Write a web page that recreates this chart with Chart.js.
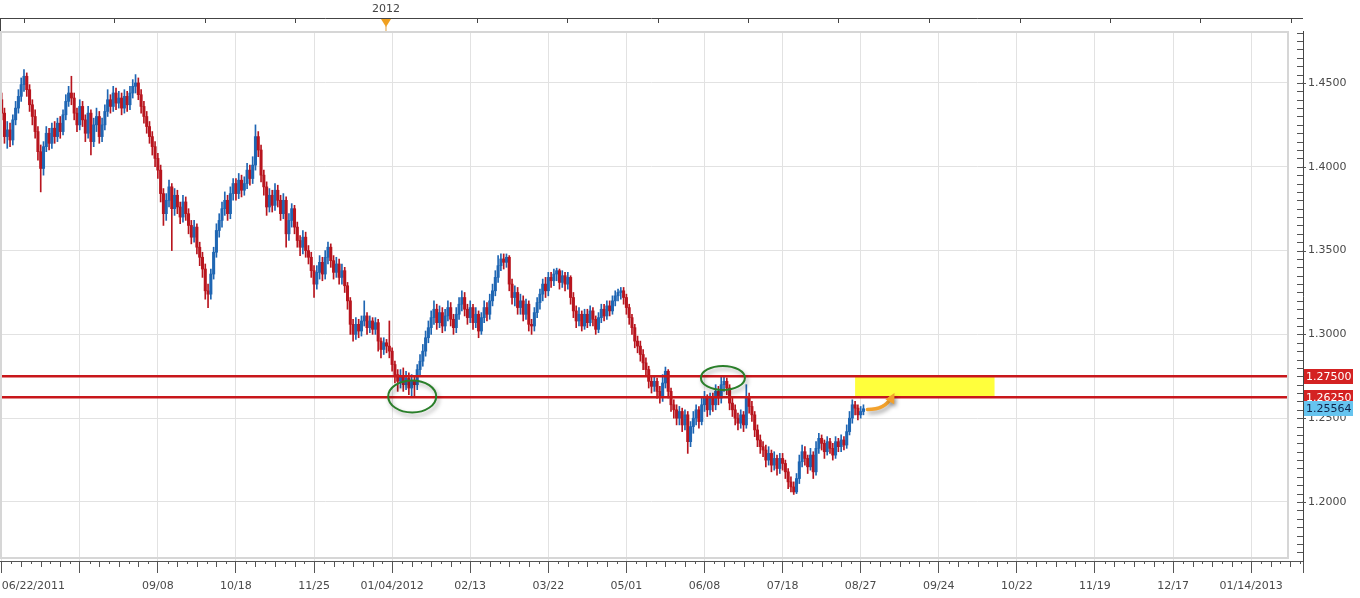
<!DOCTYPE html>
<html>
<head>
<meta charset="utf-8">
<script src="https://cdn.jsdelivr.net/npm/chart.js@4.4.0/dist/chart.umd.min.js"></script>
<style>
  html, body { margin: 0; background: #fff; }
  #wrap { width: 1360px; height: 598px; position: relative; }
</style>
</head>
<body>
<div id="wrap"><canvas id="chart"></canvas></div>
<script>
// daily bars, index 0 = 06/22/2011
const opens = [
  1.440,1.432,1.418,1.422,1.416,1.428,1.435,1.442,1.449,1.454,
  1.446,1.437,1.430,1.421,1.409,1.399,1.412,1.420,1.414,1.423,
  1.418,1.426,1.421,1.431,1.439,1.444,1.441,1.432,1.425,1.436,
  1.428,1.420,1.432,1.415,1.425,1.430,1.418,1.425,1.433,1.440,
  1.436,1.444,1.438,1.441,1.435,1.442,1.437,1.444,1.448,1.450,
  1.443,1.436,1.430,1.424,1.418,1.412,1.405,1.398,1.384,1.372,
  1.380,1.388,1.375,1.383,1.376,1.370,1.379,1.372,1.365,1.358,
  1.364,1.352,1.346,1.339,1.326,1.324,1.336,1.349,1.362,1.368,
  1.375,1.380,1.372,1.384,1.390,1.384,1.392,1.386,1.390,1.398,
  1.393,1.401,1.418,1.410,1.395,1.388,1.376,1.383,1.377,1.386,
  1.380,1.372,1.380,1.360,1.368,1.375,1.364,1.356,1.352,1.358,
  1.350,1.346,1.338,1.330,1.337,1.343,1.336,1.346,1.352,1.344,
  1.337,1.342,1.334,1.338,1.329,1.320,1.306,1.300,1.306,1.302,
  1.308,1.311,1.304,1.308,1.303,1.307,1.296,1.291,1.295,1.293,
  1.290,1.282,1.276,1.272,1.275,1.270,1.274,1.268,1.272,1.270,
  1.279,1.284,1.290,1.298,1.304,1.310,1.315,1.307,1.313,1.305,
  1.311,1.316,1.309,1.304,1.312,1.318,1.322,1.315,1.310,1.316,
  1.307,1.312,1.302,1.310,1.316,1.312,1.320,1.326,1.334,1.341,
  1.345,1.343,1.346,1.330,1.322,1.325,1.316,1.320,1.312,1.318,
  1.306,1.305,1.313,1.319,1.324,1.330,1.326,1.334,1.332,1.336,
  1.338,1.331,1.335,1.330,1.334,1.322,1.314,1.308,1.312,1.305,
  1.312,1.307,1.314,1.309,1.303,1.310,1.315,1.311,1.317,1.314,
  1.320,1.323,1.325,1.326,1.322,1.316,1.310,1.304,1.296,1.293,
  1.288,1.283,1.279,1.272,1.269,1.272,1.266,1.263,1.271,1.278,
  1.266,1.258,1.255,1.250,1.254,1.246,1.252,1.236,1.245,1.250,
  1.255,1.248,1.258,1.262,1.255,1.262,1.258,1.266,1.262,1.270,
  1.272,1.268,1.259,1.255,1.250,1.247,1.252,1.246,1.262,1.257,
  1.252,1.243,1.237,1.233,1.231,1.225,1.229,1.222,1.226,1.220,
  1.226,1.223,1.218,1.212,1.209,1.206,1.214,1.224,1.230,1.226,
  1.221,1.228,1.218,1.232,1.238,1.235,1.230,1.236,1.232,1.228,
  1.236,1.233,1.237,1.234,1.242,1.250,1.258,1.256,1.252,1.254
];
const highs = [
  1.444,1.435,1.427,1.426,1.431,1.439,1.446,1.453,1.458,1.456,
  1.449,1.440,1.434,1.424,1.413,1.415,1.424,1.423,1.426,1.427,
  1.429,1.430,1.434,1.443,1.448,1.454,1.444,1.435,1.440,1.439,
  1.431,1.436,1.434,1.429,1.435,1.433,1.429,1.437,1.446,1.443,
  1.448,1.447,1.445,1.444,1.446,1.445,1.448,1.452,1.455,1.453,
  1.446,1.439,1.433,1.427,1.421,1.415,1.408,1.401,1.387,1.384,
  1.392,1.390,1.387,1.386,1.379,1.383,1.382,1.375,1.368,1.368,
  1.366,1.355,1.349,1.342,1.330,1.339,1.352,1.366,1.372,1.379,
  1.385,1.383,1.388,1.393,1.393,1.396,1.395,1.394,1.402,1.401,
  1.406,1.425,1.421,1.413,1.398,1.391,1.387,1.386,1.390,1.389,
  1.383,1.384,1.382,1.372,1.378,1.377,1.367,1.359,1.362,1.361,
  1.353,1.349,1.341,1.341,1.347,1.346,1.350,1.355,1.354,1.347,
  1.346,1.345,1.342,1.340,1.331,1.322,1.309,1.310,1.309,1.311,
  1.320,1.313,1.311,1.310,1.310,1.309,1.298,1.298,1.297,1.308,
  1.292,1.284,1.279,1.279,1.280,1.278,1.277,1.276,1.275,1.282,
  1.288,1.294,1.302,1.308,1.314,1.320,1.318,1.317,1.316,1.315,
  1.320,1.319,1.312,1.316,1.322,1.326,1.325,1.318,1.320,1.318,
  1.316,1.314,1.313,1.320,1.319,1.324,1.330,1.338,1.347,1.348,
  1.348,1.348,1.347,1.333,1.329,1.328,1.324,1.323,1.321,1.320,
  1.309,1.316,1.322,1.327,1.333,1.334,1.337,1.337,1.339,1.3395,
  1.339,1.338,1.337,1.337,1.335,1.325,1.317,1.316,1.314,1.315,
  1.315,1.317,1.316,1.311,1.313,1.318,1.318,1.320,1.320,1.323,
  1.326,1.327,1.328,1.328,1.324,1.318,1.312,1.306,1.299,1.296,
  1.291,1.286,1.281,1.275,1.275,1.274,1.269,1.276,1.2805,1.279,
  1.268,1.261,1.258,1.257,1.256,1.255,1.254,1.248,1.254,1.258,
  1.257,1.262,1.266,1.264,1.265,1.265,1.270,1.269,1.2745,1.2745,
  1.274,1.270,1.262,1.258,1.253,1.255,1.254,1.270,1.265,1.260,
  1.254,1.246,1.240,1.236,1.234,1.233,1.231,1.230,1.228,1.229,
  1.229,1.225,1.220,1.215,1.212,1.217,1.228,1.234,1.233,1.228,
  1.232,1.230,1.236,1.241,1.240,1.237,1.239,1.238,1.235,1.239,
  1.238,1.240,1.239,1.246,1.254,1.261,1.260,1.258,1.257,1.258
];
const lows = [
  1.428,1.414,1.411,1.412,1.413,1.425,1.432,1.439,1.445,1.442,
  1.433,1.425,1.417,1.404,1.385,1.395,1.409,1.410,1.411,1.414,
  1.415,1.417,1.419,1.428,1.436,1.437,1.428,1.421,1.422,1.424,
  1.415,1.417,1.407,1.412,1.421,1.414,1.415,1.422,1.430,1.432,
  1.433,1.434,1.435,1.431,1.432,1.433,1.434,1.441,1.444,1.440,
  1.432,1.426,1.420,1.414,1.407,1.400,1.393,1.379,1.365,1.368,
  1.376,1.350,1.371,1.372,1.366,1.367,1.368,1.360,1.354,1.355,
  1.348,1.341,1.334,1.321,1.316,1.321,1.333,1.346,1.358,1.364,
  1.371,1.368,1.369,1.380,1.380,1.381,1.382,1.383,1.387,1.389,
  1.390,1.398,1.406,1.391,1.383,1.371,1.373,1.373,1.374,1.376,
  1.368,1.369,1.352,1.356,1.364,1.360,1.352,1.347,1.348,1.346,
  1.342,1.334,1.322,1.327,1.333,1.332,1.333,1.342,1.340,1.333,
  1.334,1.330,1.330,1.325,1.315,1.300,1.296,1.297,1.298,1.299,
  1.305,1.300,1.301,1.300,1.300,1.290,1.286,1.288,1.289,1.286,
  1.278,1.271,1.266,1.268,1.266,1.267,1.264,1.2625,1.263,1.267,
  1.276,1.281,1.287,1.295,1.300,1.306,1.303,1.304,1.301,1.302,
  1.308,1.305,1.300,1.301,1.309,1.314,1.311,1.306,1.307,1.303,
  1.304,1.298,1.300,1.307,1.308,1.309,1.317,1.323,1.331,1.338,
  1.339,1.340,1.326,1.318,1.317,1.312,1.312,1.308,1.309,1.302,
  1.300,1.302,1.310,1.315,1.320,1.322,1.323,1.328,1.329,1.332,
  1.327,1.328,1.326,1.327,1.318,1.310,1.304,1.305,1.302,1.303,
  1.304,1.305,1.305,1.300,1.301,1.307,1.308,1.309,1.311,1.312,
  1.317,1.320,1.321,1.318,1.312,1.306,1.300,1.292,1.289,1.284,
  1.279,1.275,1.268,1.265,1.266,1.262,1.259,1.260,1.268,1.262,
  1.254,1.250,1.246,1.246,1.242,1.243,1.229,1.233,1.241,1.246,
  1.244,1.246,1.254,1.251,1.252,1.254,1.255,1.258,1.259,1.266,
  1.264,1.255,1.251,1.246,1.243,1.244,1.242,1.244,1.253,1.248,
  1.239,1.233,1.229,1.227,1.221,1.222,1.218,1.219,1.216,1.217,
  1.219,1.214,1.208,1.206,1.2045,1.205,1.211,1.221,1.222,1.217,
  1.219,1.214,1.216,1.229,1.231,1.226,1.228,1.229,1.225,1.226,
  1.230,1.230,1.231,1.232,1.240,1.247,1.252,1.249,1.250,1.252
];
const closes = [
  1.432,1.418,1.422,1.416,1.428,1.435,1.442,1.449,1.454,1.446,
  1.437,1.430,1.421,1.409,1.399,1.412,1.420,1.414,1.423,1.418,
  1.426,1.421,1.431,1.439,1.444,1.441,1.432,1.425,1.436,1.428,
  1.420,1.432,1.415,1.425,1.430,1.418,1.425,1.433,1.440,1.436,
  1.444,1.438,1.441,1.435,1.442,1.437,1.444,1.448,1.450,1.443,
  1.436,1.430,1.424,1.418,1.412,1.405,1.398,1.384,1.372,1.380,
  1.388,1.375,1.383,1.376,1.370,1.379,1.372,1.365,1.358,1.364,
  1.352,1.346,1.339,1.326,1.324,1.336,1.349,1.362,1.368,1.375,
  1.380,1.372,1.384,1.390,1.384,1.392,1.386,1.390,1.398,1.393,
  1.401,1.418,1.410,1.395,1.388,1.376,1.383,1.377,1.386,1.380,
  1.372,1.380,1.360,1.368,1.375,1.364,1.356,1.352,1.358,1.350,
  1.346,1.338,1.330,1.337,1.343,1.336,1.346,1.352,1.344,1.337,
  1.342,1.334,1.338,1.329,1.320,1.306,1.300,1.306,1.302,1.308,
  1.311,1.304,1.308,1.303,1.307,1.296,1.291,1.295,1.293,1.290,
  1.282,1.276,1.272,1.275,1.270,1.274,1.268,1.272,1.270,1.279,
  1.284,1.290,1.298,1.304,1.310,1.315,1.307,1.313,1.305,1.311,
  1.316,1.309,1.304,1.312,1.318,1.322,1.315,1.310,1.316,1.307,
  1.312,1.302,1.310,1.316,1.312,1.320,1.326,1.334,1.341,1.345,
  1.343,1.346,1.330,1.322,1.325,1.316,1.320,1.312,1.318,1.306,
  1.305,1.313,1.319,1.324,1.330,1.326,1.334,1.332,1.336,1.338,
  1.331,1.335,1.330,1.334,1.322,1.314,1.308,1.312,1.305,1.312,
  1.307,1.314,1.309,1.303,1.310,1.315,1.311,1.317,1.314,1.320,
  1.323,1.325,1.326,1.322,1.316,1.310,1.304,1.296,1.293,1.288,
  1.283,1.279,1.272,1.269,1.272,1.266,1.263,1.271,1.278,1.266,
  1.258,1.255,1.250,1.254,1.246,1.252,1.236,1.245,1.250,1.255,
  1.248,1.258,1.262,1.255,1.262,1.258,1.266,1.262,1.270,1.272,
  1.268,1.259,1.255,1.250,1.247,1.252,1.246,1.262,1.257,1.252,
  1.243,1.237,1.233,1.231,1.225,1.229,1.222,1.226,1.220,1.226,
  1.223,1.218,1.212,1.209,1.206,1.214,1.224,1.230,1.226,1.221,
  1.228,1.218,1.232,1.238,1.235,1.230,1.236,1.232,1.228,1.236,
  1.233,1.237,1.234,1.242,1.250,1.258,1.256,1.252,1.254,1.25564
];

const xTickIdx = [0, 28, 56, 84, 112, 140, 168, 196, 224, 252, 280, 308, 336, 364, 392, 420, 448];
const xTickLabels = ['06/22/2011', '', '09/08', '10/18', '11/25', '01/04/2012', '02/13', '03/22',
  '05/01', '06/08', '07/18', '08/27', '09/24', '10/22', '11/19', '12/17', '01/14/2013'];
const yTicks = [1.20, 1.25, 1.30, 1.35, 1.40, 1.45];
const topTickIdx = [8, 40.3, 72.9, 105.2, 137.8, 170.3, 202.7, 235.2, 267.6, 300, 332.5, 365, 397.4, 429.8, 462.3];
const yearMark = { idx: 137.8, label: '2012' };

const levels = [1.2750, 1.2625];
const levelLabels = ['1.27500', '1.26250'];
const lastPrice = 1.25564;
const zoneIdx = [306, 356];
const zonePrice = [1.2625, 1.2750];
const circleIdx = [147.2, 258.6];
const circlePrice = [1.2630, 1.2740];
const arrowIdx = [310.4, 319.8];
const arrowPrice = [1.2552, 1.2640];

const X_MIN = -0.6;
const X_MAX = 466.6;
const RED = '#b8151e';
const BLUE = '#1f66b3';
const FONT = 'DejaVu Sans';

const colors = closes.map((c, i) => (c >= opens[i] ? BLUE : RED));
const wicks = closes.map((c, i) => ({ x: i, y: [lows[i], highs[i]] }));
const bodies = closes.map((c, i) => ({ x: i, y: [opens[i], c] }));

const overlay = {
  id: 'overlay',
  afterDatasetsDraw(chart) {
    const { ctx, chartArea: a, scales: { x, y } } = chart;
    const frameRight = a.right - 15;

    // target zone
    ctx.save();
    ctx.fillStyle = '#ffff3c';
    const zx0 = x.getPixelForValue(zoneIdx[0]);
    const zx1 = x.getPixelForValue(zoneIdx[1]);
    const zy0 = y.getPixelForValue(zonePrice[1]);
    const zy1 = y.getPixelForValue(zonePrice[0]);
    ctx.fillRect(zx0, zy0, zx1 - zx0, zy1 - zy0);

    // level lines
    ctx.strokeStyle = '#c8171b';
    ctx.lineWidth = 2.5;
    levels.forEach(v => {
      const py = y.getPixelForValue(v);
      ctx.beginPath();
      ctx.moveTo(a.left, py);
      ctx.lineTo(frameRight, py);
      ctx.stroke();
    });

    // green circles
    const radii = [[24, 16], [22, 12]];
    ctx.shadowColor = 'rgba(0,0,0,0.35)';
    ctx.shadowBlur = 4;
    ctx.shadowOffsetX = 2;
    ctx.shadowOffsetY = 3;
    ctx.strokeStyle = '#2a7f2a';
    ctx.lineWidth = 2;
    circleIdx.forEach((v, i) => {
      ctx.beginPath();
      ctx.ellipse(x.getPixelForValue(v), y.getPixelForValue(circlePrice[i]), radii[i][0], radii[i][1], 0, 0, Math.PI * 2);
      ctx.stroke();
    });

    // orange arrow
    const ax0 = x.getPixelForValue(arrowIdx[0]);
    const ay0 = y.getPixelForValue(arrowPrice[0]);
    const ax1 = x.getPixelForValue(arrowIdx[1]);
    const ay1 = y.getPixelForValue(arrowPrice[1]);
    const cx = ax1 - 8;
    const cy = ay0;
    ctx.strokeStyle = '#f2a12c';
    ctx.fillStyle = '#f2a12c';
    ctx.lineWidth = 3.5;
    ctx.lineCap = 'round';
    ctx.beginPath();
    ctx.moveTo(ax0, ay0);
    ctx.quadraticCurveTo(cx, cy, ax1 - 3, ay1 + 3);
    ctx.stroke();
    const ang = Math.atan2(ay1 - cy, ax1 - cx);
    ctx.beginPath();
    ctx.moveTo(ax1 + 2 * Math.cos(ang), ay1 + 2 * Math.sin(ang));
    ctx.lineTo(ax1 - 8 * Math.cos(ang) + 5 * Math.sin(ang), ay1 - 8 * Math.sin(ang) - 5 * Math.cos(ang));
    ctx.lineTo(ax1 - 8 * Math.cos(ang) - 5 * Math.sin(ang), ay1 - 8 * Math.sin(ang) + 5 * Math.cos(ang));
    ctx.closePath();
    ctx.fill();
    ctx.restore();
  },
  afterDraw(chart) {
    const { ctx, chartArea: a, scales: { x, y } } = chart;
    const frameRight = a.right - 15;
    ctx.save();

    // gap between plot frame and price axis
    ctx.fillStyle = '#fff';
    ctx.fillRect(frameRight + 1, a.top, a.right - frameRight - 2, a.bottom - a.top);

    // plot frame
    ctx.strokeStyle = '#d6d6d6';
    ctx.lineWidth = 2;
    ctx.strokeRect(1, a.top + 1, frameRight - 1, a.bottom - a.top - 4);

    // price axis minor ticks
    ctx.strokeStyle = '#555';
    ctx.lineWidth = 1;
    for (let k = 0; ; k++) {
      const v = 1.165 + k * 0.005;
      if (v > y.max) break;
      const py = Math.round(y.getPixelForValue(v)) + 0.5;
      const major = Math.abs(v * 20 - Math.round(v * 20)) < 1e-6;
      ctx.beginPath();
      ctx.moveTo(a.right - 6, py);
      ctx.lineTo(a.right + (major ? 3 : 0), py);
      ctx.stroke();
    }

    // date axis minor ticks
    for (let k = 1; k * 3.5 < X_MAX; k++) {
      if (k % 8 === 0) continue;
      const px = Math.round(x.getPixelForValue(k * 3.5)) + 0.5;
      const len = k % 2 ? 3 : 6;
      ctx.beginPath();
      ctx.moveTo(px, a.bottom);
      ctx.lineTo(px, a.bottom + len);
      ctx.stroke();
    }

    // top date strip
    ctx.strokeStyle = '#444';
    ctx.beginPath();
    ctx.moveTo(0, 18.5);
    ctx.lineTo(a.right, 18.5);
    ctx.moveTo(0.5, 18);
    ctx.lineTo(0.5, a.top);
    ctx.stroke();
    topTickIdx.forEach(v => {
      const px = Math.round(x.getPixelForValue(v)) + 0.5;
      ctx.beginPath();
      ctx.moveTo(px, 18);
      ctx.lineTo(px, 23);
      ctx.stroke();
    });
    const mx = x.getPixelForValue(yearMark.idx);
    ctx.fillStyle = '#f0a020';
    ctx.beginPath();
    ctx.moveTo(mx - 5, 19);
    ctx.lineTo(mx + 5, 19);
    ctx.lineTo(mx, 27);
    ctx.closePath();
    ctx.fill();
    ctx.strokeStyle = '#e0a040';
    ctx.beginPath();
    ctx.moveTo(mx, 26);
    ctx.lineTo(mx, a.top);
    ctx.stroke();
    ctx.fillStyle = '#444';
    ctx.font = `11px "${FONT}"`;
    ctx.textAlign = 'center';
    ctx.textBaseline = 'middle';
    ctx.fillText(yearMark.label, mx, 9);

    // price labels on the axis
    ctx.textAlign = 'left';
    const box = (v, text, bg, fg) => {
      const py = y.getPixelForValue(v);
      ctx.fillStyle = bg;
      ctx.fillRect(a.right + 1, Math.round(py - 7.5), 49, 15);
      ctx.fillStyle = fg;
      ctx.fillText(text, a.right + 3, py + 0.5);
    };
    levels.forEach((v, i) => box(v, levelLabels[i], '#d42222', '#fff'));
    box(lastPrice, lastPrice.toFixed(5), '#66c4ef', '#10244a');
    ctx.restore();
  }
};

new Chart(document.getElementById('chart'), {
  type: 'bar',
  data: {
    datasets: [
      { data: wicks, backgroundColor: colors, barThickness: 1, grouped: false, order: 2 },
      { data: bodies, backgroundColor: colors, barThickness: 2.4, grouped: false, order: 1 }
    ]
  },
  options: {
    responsive: true,
    maintainAspectRatio: false,
    animation: false,
    layout: { padding: { top: 31, left: 0, right: 0, bottom: 0 } },
    plugins: { legend: { display: false }, tooltip: { enabled: false } },
    scales: {
      x: {
        type: 'linear',
        min: X_MIN,
        max: X_MAX,
        offset: false,
        grid: {
          offset: false,
          color: c => (c.index < xTickIdx.length ? '#e2e2e2' : 'rgba(0,0,0,0)'),
          tickColor: '#555',
          tickLength: 12
        },
        border: { color: '#555' },
        afterBuildTicks: s => { s.ticks = xTickIdx.concat([X_MAX]).map(v => ({ value: v })); },
        afterFit: s => { s.height = 37; s.paddingLeft = 0; s.paddingRight = 0; },
        ticks: {
          autoSkip: false,
          maxRotation: 0,
          align: 'inner',
          padding: 7,
          color: '#4a4a4a',
          font: { family: FONT, size: 11 },
          callback: (v, i) => (i < xTickLabels.length ? xTickLabels[i] : '')
        }
      },
      y: {
        position: 'right',
        min: 1.1648,
        max: 1.481,
        grid: { color: '#e2e2e2', drawTicks: false },
        border: { color: '#444' },
        afterBuildTicks: s => { s.ticks = yTicks.map(v => ({ value: v })); },
        afterFit: s => { s.width = 57; },
        ticks: {
          padding: 5,
          color: '#4a4a4a',
          font: { family: FONT, size: 11 },
          callback: v => v.toFixed(4)
        }
      }
    }
  },
  plugins: [overlay]
});
</script>
</body>
</html>
